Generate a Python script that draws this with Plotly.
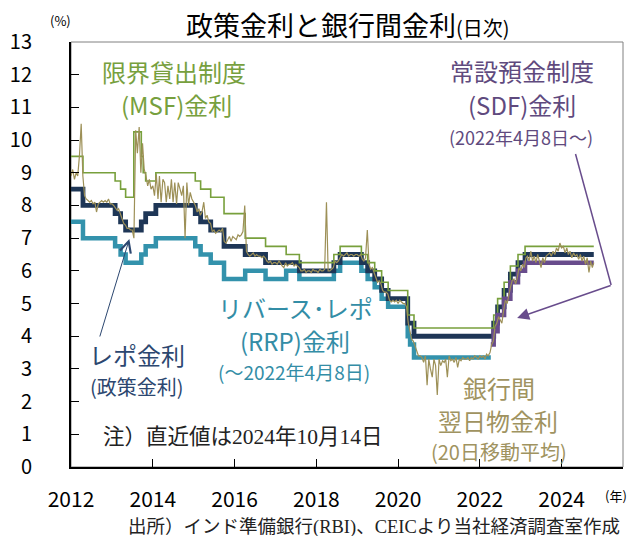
import plotly.graph_objects as go
import pandas as pd

# ---------------- data ----------------
repo_dates = ["2012-01-01","2012-04-17","2013-01-29","2013-03-19","2013-05-03","2013-09-20","2013-10-29",
              "2014-01-28","2015-01-15","2015-03-04","2015-06-02","2015-09-29","2016-04-05","2016-10-04",
              "2017-08-02","2018-06-06","2018-08-01","2019-02-07","2019-04-04","2019-06-06","2019-08-07",
              "2019-10-04","2020-03-27","2020-05-22","2022-05-04","2022-06-08","2022-08-05","2022-09-30",
              "2022-12-07","2023-02-08","2024-10-14"]
repo_vals = [8.5,8.0,7.75,7.5,7.25,7.5,7.75,8.0,7.75,7.5,7.25,6.75,6.5,6.25,6.0,6.25,6.5,6.25,6.0,5.75,
             5.4,5.15,4.4,4.0,4.4,4.9,5.4,5.9,6.25,6.5,6.5]

rrp_dates = ["2012-01-01","2012-04-17","2013-01-29","2013-03-19","2013-05-03","2013-09-20","2013-10-29",
             "2014-01-28","2015-01-15","2015-03-04","2015-06-02","2015-09-29","2016-04-05","2016-10-04",
             "2017-04-06","2017-08-02","2018-06-06","2018-08-01","2019-02-07","2019-04-04","2019-06-06",
             "2019-08-07","2019-10-04","2020-03-27","2020-04-17","2020-05-22","2022-04-08"]
rrp_vals = [7.5,7.0,6.75,6.5,6.25,6.5,6.75,7.0,6.75,6.5,6.25,5.75,6.0,5.75,6.0,5.75,6.0,6.25,6.0,5.75,
            5.5,5.15,4.9,4.0,3.75,3.35,3.35]

msf_dates = ["2012-01-01","2012-04-17","2013-01-29","2013-03-19","2013-05-03","2013-07-15","2013-09-20",
             "2013-10-07","2013-10-29","2014-01-28","2015-01-15","2015-03-04","2015-06-02","2015-09-29",
             "2016-04-05","2016-10-04","2017-04-06","2017-08-02","2018-06-06","2018-08-01","2019-02-07",
             "2019-04-04","2019-06-06","2019-08-07","2019-10-04","2020-03-27","2020-05-22","2022-04-08",
             "2022-05-04","2022-06-08","2022-08-05","2022-09-30","2022-12-07","2023-02-08","2024-10-14"]
msf_vals = [9.5,9.0,8.75,8.5,8.25,10.25,9.5,9.0,8.75,9.0,8.75,8.5,8.25,7.75,7.0,6.75,6.5,6.25,6.5,6.75,
            6.5,6.25,6.0,5.65,5.4,4.65,4.25,4.25,4.65,5.15,5.65,6.15,6.5,6.75,6.75]

sdf_dates = ["2022-04-08","2022-05-04","2022-06-08","2022-08-05","2022-09-30","2022-12-07","2023-02-08","2024-10-14"]
sdf_vals = [3.75,4.15,4.65,5.15,5.65,6.0,6.25,6.25]

# interbank overnight call rate (20-day MA), read on the 1st and 16th of each month
call_2012 = [8.9,9.1,8.8,9.0,8.9,9.5,10.5,8.9,8.3,8.2,8.15,8.1,8.15,8.05,8.1,7.8,8.05,8.1,8.15,8.1,8.15,8.1,8.2,8.05]
call_2013 = [8.05,8.0,7.9,7.85,7.9,7.75,7.6,7.45,7.4,7.3,7.3,7.25,7.25,7.0,10.3,9.6,10.4,9.0,9.9,9.1,8.9,8.6,8.8,8.5]
call_2014 = [8.6,8.3,8.95,8.2,8.9,8.1,8.8,8.7,8.1,8.6,8.2,8.8,8.1,8.7,8.05,8.7,8.5,8.3,8.6,7.0,8.7,8.0,8.4,8.2]
call_2015 = [8.1,8.0,7.8,7.9,7.7,7.8,8.1,7.6,7.7,7.5,7.45,7.2,7.25,7.15,7.2,7.25,7.2,7.3,6.9,6.85,6.95,7.05,6.9,7.05]
call_2016 = [7.0,6.95,7.1,7.05,7.1,7.2,8.0,6.6,6.5,6.45,6.5,6.55,6.45,6.5,6.45,6.45,6.4,6.45,6.4,6.3,6.25,6.3,6.2,6.25]
call_2017 = [6.25,6.2,6.3,6.2,6.15,6.1,6.25,6.15,6.2,6.2,6.25,6.15,6.2,6.15,6.1,6.0,6.0,6.05,5.95,6.0,6.0,5.95,6.05,6.0]
call_2018 = [6.0,5.95,6.05,6.0,6.0,6.05,8.1,6.0,6.0,6.05,6.1,6.3,6.25,6.3,6.4,6.5,6.45,6.5,6.55,6.45,6.5,6.5,6.45,6.5]
call_2019 = [6.5,6.45,6.5,6.35,6.3,6.4,7.25,6.2,6.05,6.1,5.95,5.75,5.65,5.7,5.6,5.4,5.35,5.35,5.3,5.1,5.05,5.1,5.05,5.1]
call_2020 = [5.0,5.1,5.05,5.0,5.0,4.9,4.4,4.1,3.9,3.85,3.7,3.5,3.4,3.4,3.35,3.2,3.4,2.5,3.3,3.0,2.75,3.3,3.1,2.2]
call_2021 = [3.3,3.1,3.25,3.2,3.3,2.75,3.4,3.25,3.3,3.2,3.35,3.05,3.3,3.25,3.35,3.3,3.3,3.35,3.25,3.35,3.3,3.4,3.35,3.3]
call_2022 = [3.4,3.35,3.4,3.3,3.45,3.4,3.5,3.75,3.85,4.3,4.4,4.6,4.5,4.4,4.8,5.1,5.0,5.3,5.5,5.7,5.75,5.6,5.8,6.1]
call_2023 = [6.0,6.2,6.1,6.4,6.45,6.3,6.6,6.3,6.45,6.25,6.5,6.3,6.1,6.4,6.25,6.45,6.5,6.55,6.45,6.6,6.5,6.7,6.6,6.85]
call_2024 = [6.7,6.75,6.55,6.7,6.5,6.6,6.4,6.55,6.45,6.5,6.35,6.5,6.3,6.45,6.2,6.4,5.95,6.3,6.1,6.25]
call_last_date = "2024-10-14"

year_ticks = [2012, 2014, 2016, 2018, 2020, 2022, 2024]
y_ticks = list(range(0, 14))

# --------------- build call series ---------------
call_dates, call_vals = [], []
for yr, vals in zip(range(2012, 2025), [call_2012, call_2013, call_2014, call_2015, call_2016, call_2017,
                                          call_2018, call_2019, call_2020, call_2021, call_2022, call_2023, call_2024]):
    for i, v in enumerate(vals):
        m = i // 2 + 1
        d = 1 if i % 2 == 0 else 16
        call_dates.append(f"{yr}-{m:02d}-{d:02d}")
        call_vals.append(v)
call_dates[-1] = call_last_date

# --------------- colours ---------------
C_MSF = "#78A03C"
C_REPO = "#1E3656"
C_RRP = "#3392AC"
C_SDF = "#684C8C"
C_CALL = "#9D9057"
T_MSF = "#77A03E"
T_REPO = "#2C4770"
T_RRP = "#338DA6"
T_SDF = "#5F4A7E"
T_CALL = "#A09360"

JP = "Noto Sans CJK JP"
SERIF = "Liberation Serif, Noto Sans CJK JP"

fig = go.Figure()
fig.add_trace(go.Scatter(x=rrp_dates, y=rrp_vals, mode="lines", line=dict(color=C_RRP, width=4.5, shape="hv")))
fig.add_trace(go.Scatter(x=repo_dates, y=repo_vals, mode="lines", line=dict(color=C_REPO, width=4.8, shape="hv")))
fig.add_trace(go.Scatter(x=msf_dates, y=msf_vals, mode="lines", line=dict(color=C_MSF, width=1.6, shape="hv")))
fig.add_trace(go.Scatter(x=sdf_dates, y=sdf_vals, mode="lines", line=dict(color=C_SDF, width=4.5, shape="hv")))
fig.add_trace(go.Scatter(x=call_dates, y=call_vals, mode="lines", line=dict(color=C_CALL, width=1.2)))

W, H = 633, 536
L, R, T, B = 65, 10, 42, 69
PW, PH = W - L - R, H - T - B


def px(x):
    return (x - L) / PW


def py(y):
    return (H - B - y) / PH


def txt(x, y, s, size, color, family=JP, xanchor="center"):
    fig.add_annotation(x=px(x), y=py(y), xref="paper", yref="paper", text=s, showarrow=False,
                       font=dict(size=size, color=color, family=family), xanchor=xanchor, yanchor="middle")


# title
txt(345, 25, '政策金利と銀行間金利<span style="font-size:20px">(日次)</span>', 27, "#000000")
txt(54, 20, "(%)", 13, "#000000")
txt(616, 495, "(年)", 13, "#000000")

# series labels
txt(169, 72, "限界貸出制度", 24, T_MSF)
txt(172, 105, "(MSF)金利", 24, T_MSF)
txt(521, 70, "常設預金制度", 24, T_SDF)
txt(521, 104, "(SDF)金利", 24, T_SDF)
txt(520, 137, "(2022年4月8日～)", 18, T_SDF)
txt(292, 307, "リバース･レポ", 24, T_RRP)
txt(291, 340, "(RRP)金利", 24, T_RRP)
txt(290, 371, "(～2022年4月8日)", 19, T_RRP)
txt(132, 354, "レポ金利", 24, T_REPO)
txt(132, 386, "(政策金利)", 20, T_REPO)
txt(498, 387, "銀行間", 24, T_CALL)
txt(497, 420, "翌日物金利", 24, T_CALL)
txt(498, 451, "(20日移動平均)", 20, T_CALL)
txt(95, 437, "注）直近値は2024年10月14日", 21.5, "#222222", family=SERIF, xanchor="left")
txt(121, 527, "出所）インド準備銀行(RBI)、CEICより当社経済調査室作成", 18.5, "#222222", family=SERIF, xanchor="left")

# arrows
fig.add_annotation(x=px(124), y=py(239), xref="paper", yref="paper", ax=94 - 124, ay=338 - 239,
                   showarrow=True, arrowhead=5, arrowsize=2.2, arrowwidth=1, arrowcolor=T_REPO, text="")
fig.add_shape(type="line", xref="paper", yref="paper", x0=px(575), y0=py(154), x1=px(611), y1=py(285),
              line=dict(color=C_SDF, width=1.5))
fig.add_annotation(x=px(516), y=py(318), xref="paper", yref="paper", ax=611 - 516, ay=285 - 318,
                   showarrow=True, arrowhead=2, arrowsize=1.6, arrowwidth=1.5, arrowcolor=C_SDF, text="")

# frame (top/right thin grey)
fig.add_shape(type="rect", xref="paper", yref="paper", x0=0, y0=0, x1=1, y1=1,
              line=dict(color="#808080", width=1), layer="below")

fig.update_layout(
    width=W, height=H, margin=dict(l=L, r=R, t=T, b=B),
    paper_bgcolor="white", plot_bgcolor="white", showlegend=False,
    font=dict(family=JP, color="#000000"),
    xaxis=dict(type="date", range=["2012-01-01", "2025-07-02"],
               tickvals=[f"{y}-01-01" for y in year_ticks], ticktext=[str(y) for y in year_ticks],
               ticks="inside", ticklen=8, tickcolor="#000000", tickwidth=1,
               showline=True, linecolor="#000000", linewidth=2, showgrid=False, zeroline=False,
               tickfont=dict(size=21, family=JP, color="#000000"), ticklabelstandoff=13),
    yaxis=dict(range=[0, 13], tickvals=y_ticks, ticktext=[str(v) for v in y_ticks],
               ticks="inside", ticklen=8, tickcolor="#000000", tickwidth=1,
               showline=True, linecolor="#000000", linewidth=2, showgrid=False, zeroline=False,
               tickfont=dict(size=20, family=JP, color="#000000"), ticklabelstandoff=33),
)

fig.write_html("out.html", config={"displayModeBar": False},
               post_script="document.body.style.margin='0px';document.body.style.overflow='hidden';")
